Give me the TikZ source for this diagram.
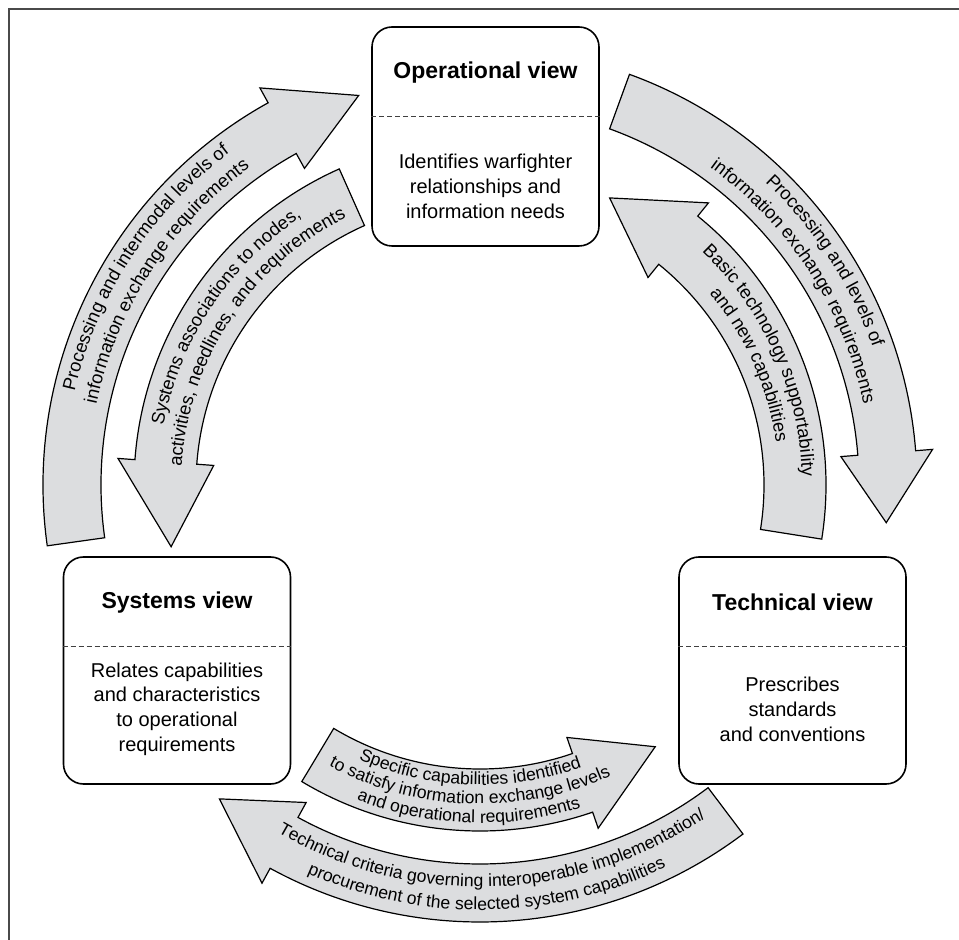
\documentclass[tikz,border=0pt]{standalone}
\usepackage{fontspec}
\setmainfont{Liberation Sans}
\usetikzlibrary{positioning,calc,decorations.text}
\definecolor{bandgrey}{HTML}{DCDDDF}
\definecolor{framegrey}{HTML}{4A4A4A}
\newcommand{\arrowfont}{\fontsize{9.2}{9.2}\selectfont}
\newcommand{\longarrowfont}{\fontsize{8.8}{8.8}\selectfont}
\newcommand{\smallarrowfont}{\fontsize{8.8}{8.8}\selectfont}
% curved block arrow: r in, r out, tail angle, head base angle, tip angle, barb
\newcommand{\ringarrow}[6]{%
    \draw[band] (#3:#2) arc[start angle=#3, end angle=#4, radius=#2]
        -- (#4:{#2+#6}) -- (#5:{(#1+#2)/2}) -- (#4:{#1-#6}) -- (#4:#1)
        arc[start angle=#4, end angle=#3, radius=#1] -- cycle;}
% one line of text on an arc: radius, from angle, to angle, text
\newcommand{\ringtext}[4]{%
    \path[decorate, decoration={text along path, text align=center,
        text={#4}}] (#2:#1) arc[start angle=#2, end angle=#3, radius=#1];}
\tikzset{
    view/.style =       {rectangle,
                        rounded corners=10pt,
                        fill=white,
                        draw=black,
                        line width=0.8pt,
                        minimum width=113.5pt,
                        minimum height=113.5pt},
    viewtitle/.style =  {font=\fontsize{11.5}{13}\selectfont\bfseries},
    viewtext/.style =   {align=center,
                        font=\fontsize{10}{12.4}\selectfont},
    divider/.style =    {draw=black!75,
                        line width=0.6pt,
                        dash pattern=on 2.5pt off 1.5pt},
    band/.style =       {draw=black,
                        fill=bandgrey,
                        line width=0.6pt,
                        line join=miter},
    frame/.style =      {draw=framegrey,
                        line width=1pt}}

\begin{document}
\begin{tikzpicture}[x=0.5pt, y=0.5pt]
    \useasboundingbox (0,0) rectangle (959,-940);
    \draw[frame] (9,-940) -- (9,-9.5) -- (959,-9.5);

    % the three views
    \node[view, minimum height=109.5pt] (op)   at (485.5,-136.5) {};
    \node[view]                         (sys)  at (177,-670.5)   {};
    \node[view]                         (tech) at (792.5,-670.5) {};

    \node[viewtitle] (optitle)   at ($(op.north)+(0,-46)$)   {Operational view};
    \node[viewtitle] (systitle)  at ($(sys.north)+(0,-46)$)  {Systems view};
    \node[viewtitle] (techtitle) at ($(tech.north)+(0,-46)$) {Technical view};

    \draw[divider] ($(op.north west)+(0,-90)$)   -- ($(op.north east)+(0,-90)$);
    \draw[divider] ($(sys.north west)+(0,-90)$)  -- ($(sys.north east)+(0,-90)$);
    \draw[divider] ($(tech.north west)+(0,-90)$) -- ($(tech.north east)+(0,-90)$);

    \node[viewtext] (optext)   at ($(op.north)+(0,-160)$)
        {Identifies warfighter\\relationships and\\information needs};
    \node[viewtext] (systext)  at ($(sys.north)+(0,-153)$)
        {Relates capabilities\\and characteristics\\to operational\\requirements};
    \node[viewtext] (techtext) at ($(tech.north)+(0,-153)$)
        {Prescribes\\standards\\and conventions};

    % arrows round the views
    \begin{scope}[shift={(480,-485)}]
        \ringarrow{379}{437}{188}{119}{107.3}{17}
        \ringarrow{379}{437}{70}{4.5}{-5.3}{17}
        \ringarrow{379}{437}{-53}{-118.7}{-129.7}{17}
        \ringarrow{284}{346}{114}{175.8}{191.3}{17}
        \ringarrow{284}{346}{-9}{51}{65.7}{17}
        \ringarrow{284}{346}{239}{289}{303.8}{17}

        \ringtext{416}{197}{97}{|\arrowfont|Processing and intermodal levels of}
        \ringtext{392}{197}{97}{|\arrowfont|information exchange requirements}
        \ringtext{322}{196.5}{96.5}{|\arrowfont|Systems associations to nodes,}
        \ringtext{299}{196.5}{96.5}{|\arrowfont|activities, needlines, and requirements}
        \ringtext{416}{83}{-17}{|\arrowfont|Processing and levels of}
        \ringtext{392}{83}{-17}{|\arrowfont|information exchange requirements}
        \ringtext{322}{74}{-26}{|\arrowfont|Basic technology supportability}
        \ringtext{299}{74}{-26}{|\arrowfont|and new capabilities}
        \ringtext{402}{222}{322}{|\longarrowfont|Technical criteria governing interoperable implementation/}
        \ringtext{425}{221}{321}{|\longarrowfont|procurement of the selected system capabilities}
        \ringtext{300}{218}{318}{|\smallarrowfont|Specific capabilities identified}
        \ringtext{319}{218}{318}{|\smallarrowfont|to satisfy information exchange levels}
        \ringtext{338}{218}{318}{|\smallarrowfont|and operational requirements}
    \end{scope}
\end{tikzpicture}
\end{document}
